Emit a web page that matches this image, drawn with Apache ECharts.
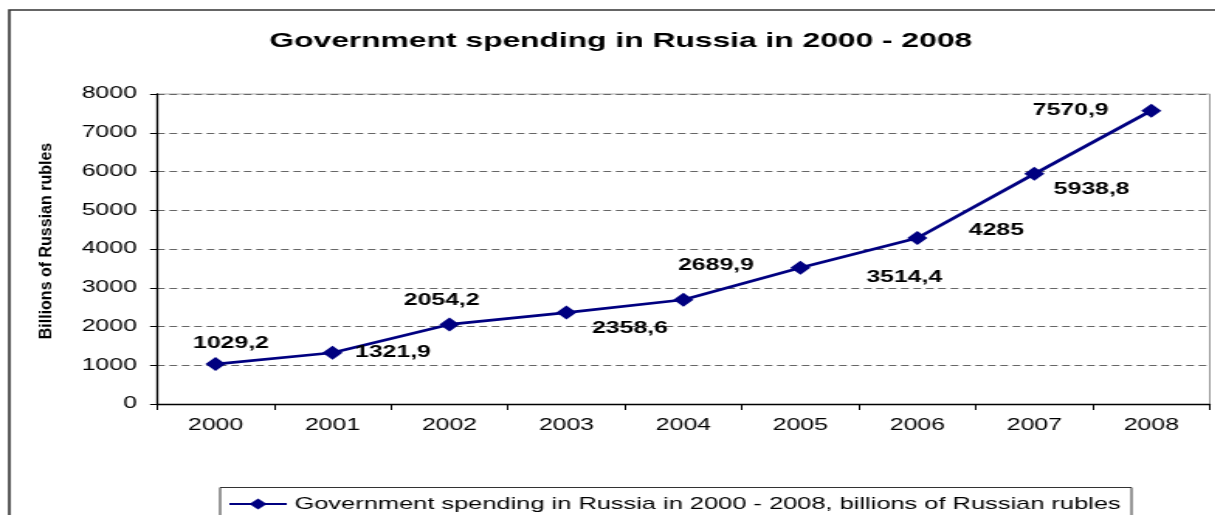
<!DOCTYPE html>
<html>
<head>
<meta charset="utf-8">
<script src="https://cdn.jsdelivr.net/npm/echarts@6/dist/echarts.min.js"></script>
<style>
  html, body { margin: 0; padding: 0; background: #fff; overflow: hidden; }
  /* the chart is laid out narrow and widened horizontally, giving the stretched look */
  #chart { width: 784px; height: 515px; transform: scaleX(1.55); transform-origin: 0 0; }
</style>
</head>
<body>
<div id="chart"></div>
<script>
// Government spending in Russia, billions of rubles
const years = ['2000', '2001', '2002', '2003', '2004', '2005', '2006', '2007', '2008'];
const spending = [1029.2, 1321.9, 2054.2, 2358.6, 2689.9, 3514.4, 4285, 5938.8, 7570.9];
const yTicks = [0, 1000, 2000, 3000, 4000, 5000, 6000, 7000, 8000];

const seriesName = 'Government spending in Russia in 2000 - 2008, billions of Russian rubles';

// where each value label sits relative to its marker
const labelOffsets = [[10, -21], [39, 0], [-5, -24], [41, 16], [21, -34], [67, 10], [51, -7], [37, 16], [-52, 0]];

// values are printed with a decimal comma
const fmt = v => String(v).replace('.', ',');

const FONT = 'Liberation Sans, Arial, sans-serif';
const chart = echarts.init(document.getElementById('chart'), null, { renderer: 'canvas' });

chart.setOption({
  animation: false,
  backgroundColor: '#fff',
  textStyle: { fontFamily: FONT },
  title: {
    text: 'Government spending in Russia in 2000 - 2008',
    left: 395.5, top: 26, textAlign: 'center',
    textStyle: { fontSize: 20.5, fontWeight: 'bold', color: '#000', fontFamily: FONT }
  },
  graphic: [
    // outer frame
    { type: 'rect', shape: { x: 6, y: 10, width: 800, height: 530 }, style: { fill: 'none', stroke: '#333', lineWidth: 1.6 }, silent: true },
    // legend frame
    { type: 'rect', shape: { x: 142, y: 487.5, width: 588, height: 40 }, style: { fill: '#fff', stroke: '#333', lineWidth: 1 }, silent: true, z: 0 },
    // plot-area border, top and right
    { type: 'line', shape: { x1: 101, y1: 94, x2: 780.5, y2: 94 }, style: { stroke: '#aaa', lineWidth: 1 }, silent: true },
    { type: 'line', shape: { x1: 780.5, y1: 94, x2: 780.5, y2: 404 }, style: { stroke: '#999', lineWidth: 1 }, silent: true },
    // y-axis title, drawn condensed
    {
      type: 'text', x: 30.3, y: 241, rotation: Math.PI / 2, scaleY: 0.7,
      style: { text: 'Billions of Russian rubles', fontSize: 16, fontWeight: 'bold', fill: '#000', fontFamily: FONT, align: 'center', verticalAlign: 'middle' },
      silent: true
    }
  ],
  legend: {
    left: 147, top: 496, padding: 0,
    itemWidth: 37, itemHeight: 14, itemGap: 0,
    data: [{ name: seriesName }],
    textStyle: { fontSize: 16.4, color: '#000' }
  },
  grid: { left: 101.3, right: 3.5, top: 94, bottom: 111, containLabel: false },
  xAxis: {
    type: 'category',
    data: years,
    boundaryGap: true,
    axisLine: { lineStyle: { color: '#000', width: 1.3 } },
    axisTick: { show: true, length: 6, lineStyle: { color: '#000' } },
    axisLabel: { color: '#000', fontSize: 16, margin: 14 }
  },
  yAxis: {
    type: 'value',
    min: yTicks[0], max: yTicks[yTicks.length - 1], interval: 1000,
    axisLine: { show: true, lineStyle: { color: '#000', width: 1.3 } },
    axisTick: { show: true, length: 4.5, lineStyle: { color: '#000' } },
    axisLabel: { color: '#000', fontSize: 16, margin: 13, formatter: v => String(v) },
    splitLine: { show: true, lineStyle: { color: '#666', type: [5, 3], width: 1 } }
  },
  series: [{
    name: seriesName,
    type: 'line',
    data: spending.map((v, i) => ({
      value: v,
      label: { offset: labelOffsets[i] }
    })),
    symbol: 'diamond',
    symbolSize: [13, 14],
    itemStyle: { color: '#000080' },
    lineStyle: { color: '#000080', width: 2.7 },
    label: {
      show: true, position: 'inside',
      formatter: p => fmt(p.value),
      fontSize: 16, fontWeight: 'bold', color: '#000'
    },
    z: 5
  }]
});
</script>
</body>
</html>
